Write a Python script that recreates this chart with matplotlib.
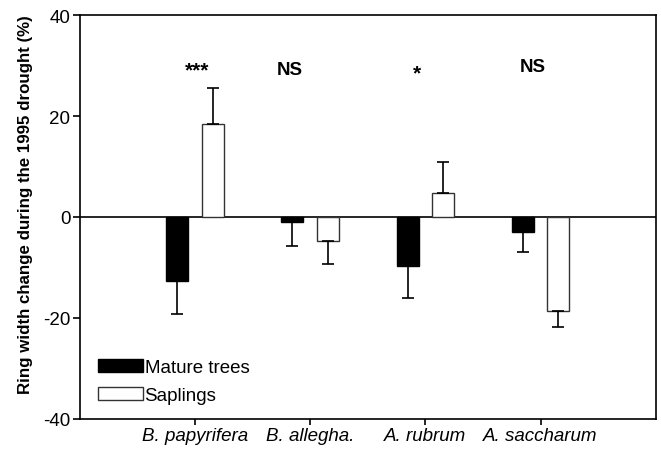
import numpy as np
import matplotlib.pyplot as plt
from matplotlib.patches import Patch

plt.rcParams['font.family'] = ['Liberation Sans', 'DejaVu Sans']
plt.rcParams['axes.unicode_minus'] = False

# data
species = ["B. papyrifera", "B. allegha.", "A. rubrum", "A. saccharum"]
mature = [-12.7, -0.9, -9.7, -3.0]
mature_err = [6.5, 4.8, 6.3, 4.0]
saplings = [18.4, -4.7, 4.7, -18.7]
saplings_err = [7.2, 4.6, 6.1, 3.1]
signif = ["***", "NS", "*", "NS"]

x = np.arange(1, len(species) + 1)
w = 0.19
off = 0.155

fig = plt.figure(figsize=(6.61, 4.52), dpi=100)
ax = fig.add_axes([0.121, 0.0708, 0.871, 0.8938])

# one-sided error bars (away from zero)
m_err = [mature_err, [0] * 4]
s_err = [[e if v < 0 else 0 for v, e in zip(saplings, saplings_err)],
         [e if v >= 0 else 0 for v, e in zip(saplings, saplings_err)]]

ekw = dict(ecolor='black', elinewidth=1.2, capsize=4.3, capthick=1.2)
ax.bar(x - off, mature, w, color='black', edgecolor='black', linewidth=1,
       yerr=m_err, error_kw=ekw)
ax.bar(x + off, saplings, w, color='white', edgecolor='#333333', linewidth=1,
       yerr=s_err, error_kw=ekw)

ax.axhline(0, color='black', linewidth=1.2, zorder=0)

sig_y = [29.1, 29.3, 28.6, 29.9]
sig_x = [1.02, 1.82, 2.93, 3.93]
sig_fs = [15, 13.5, 15, 13.5]
for sx, sy, s, fs in zip(sig_x, sig_y, signif, sig_fs):
    ax.text(sx, sy, s, ha='center', va='center', fontsize=fs, fontweight='bold')

ax.set_xlim(0, 5)
ax.set_ylim(-40, 40)
ax.set_xticks(x)
ax.set_xticklabels(species, fontstyle='italic', fontsize=13.5)
ax.set_yticks([-40, -20, 0, 20, 40])
ax.tick_params(axis='y', labelsize=13.5, direction='out', length=5, width=1.2, pad=2)
ax.tick_params(axis='x', direction='out', length=4, width=1.2, pad=2)
for sp in ax.spines.values():
    sp.set_linewidth(1.2)

ax.set_ylabel("Ring width change during the 1995 drought (%)", fontsize=12.2,
              fontweight='bold')
ax.yaxis.set_label_coords(-0.082, 0.532)

handles = [Patch(facecolor='black', edgecolor='black', label='Mature trees'),
           Patch(facecolor='white', edgecolor='#333333', label='Saplings')]
ax.legend(handles=handles, loc='lower left', bbox_to_anchor=(0.008, 0.005),
          frameon=False, fontsize=13.5, handlelength=2.4, handleheight=0.7,
          handletextpad=0.1, labelspacing=0.55, borderaxespad=0.3)

fig.savefig("out.png", dpi=100)
